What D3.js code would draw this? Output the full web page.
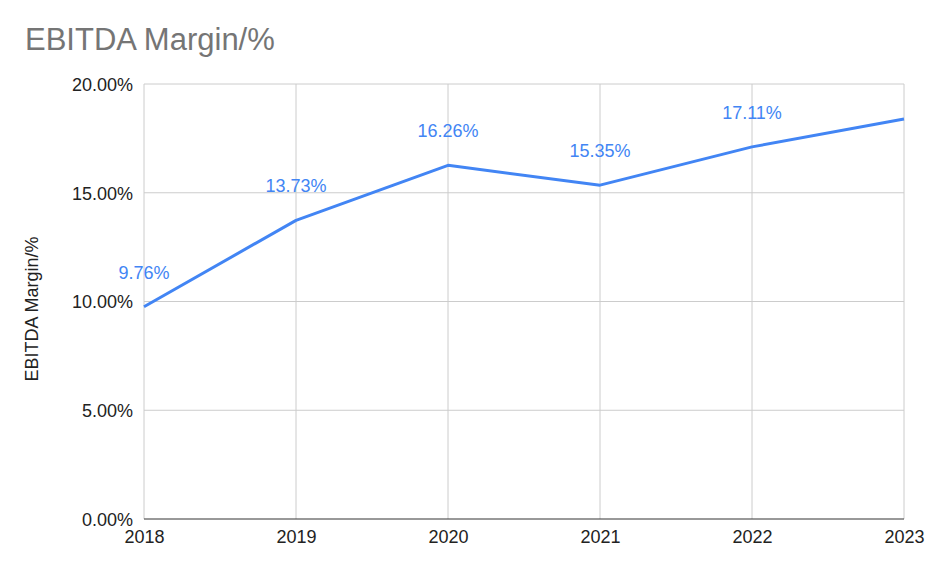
<!DOCTYPE html>
<html><head><meta charset="utf-8">
<script src="https://cdn.jsdelivr.net/npm/d3@7"></script>
<style>body{margin:0;background:#fff}svg{display:block}</style>
</head><body>
<svg id="c" width="929" height="569"></svg>
<script>
const years = ["2018","2019","2020","2021","2022","2023"];
const margins = [9.76, 13.73, 16.26, 15.35, 17.11, 18.39];
const labels = ["9.76%","13.73%","16.26%","15.35%","17.11%",""];
const yTicks = [0, 5, 10, 15, 20];

const svg = d3.select("#c");
const font = "Arial, 'Liberation Sans', sans-serif";
const L = 144, R = 904, T = 84, B = 519;
const x = d3.scalePoint().domain(years).range([L, R]);
const y = d3.scaleLinear().domain([0, 20]).range([B, T]);

svg.append("text").attr("x", 25).attr("y", 50).attr("font-family", font)
  .attr("font-size", 31).attr("fill", "#757575").text("EBITDA Margin/%");

// gridlines
svg.append("g").selectAll("line").data(yTicks.filter(d => d > 0)).join("line")
  .attr("x1", L).attr("x2", R).attr("y1", d => y(d)).attr("y2", d => y(d))
  .attr("stroke", "#cccccc").attr("stroke-width", 1);
svg.append("g").selectAll("line").data(years).join("line")
  .attr("x1", d => x(d)).attr("x2", d => x(d)).attr("y1", T).attr("y2", B)
  .attr("stroke", "#cccccc").attr("stroke-width", 1);
svg.append("line").attr("x1", L).attr("x2", R).attr("y1", B).attr("y2", B)
  .attr("stroke", "#333333").attr("stroke-width", 1);

// y labels
const yAxis = svg.append("g").attr("transform", `translate(${L},0)`)
  .call(d3.axisLeft(y).tickValues(yTicks).tickSize(0).tickPadding(11).tickFormat(d => d.toFixed(2) + "%"));
yAxis.select(".domain").remove();
yAxis.selectAll("text").attr("font-family", font).attr("font-size", 18).attr("fill", "#222").attr("dy", "0.35em");

// x labels
const xAxis = svg.append("g").attr("transform", `translate(0,${B})`)
  .call(d3.axisBottom(x).tickSize(0).tickPadding(0));
xAxis.select(".domain").remove();
xAxis.selectAll("text").attr("font-family", font).attr("font-size", 18).attr("fill", "#222")
  .attr("y", 24).attr("dy", 0);

// axis title
svg.append("text").attr("transform", `translate(38,309) rotate(-90)`)
  .attr("text-anchor", "middle").attr("font-family", font).attr("font-size", 18)
  .attr("fill", "#222").text("EBITDA Margin/%");

// line
const line = d3.line().x((d, i) => x(years[i])).y(d => y(d));
svg.append("path").datum(margins).attr("d", line).attr("fill", "none")
  .attr("stroke", "#4285f4").attr("stroke-width", 3).attr("stroke-linejoin", "round");

// data labels
svg.append("g").selectAll("text").data(margins).join("text")
  .attr("x", (d, i) => x(years[i])).attr("y", d => y(d) - 28)
  .attr("text-anchor", "middle").attr("font-family", font).attr("font-size", 18)
  .attr("fill", "#4285f4").text((d, i) => labels[i]);
</script>
</body></html>
